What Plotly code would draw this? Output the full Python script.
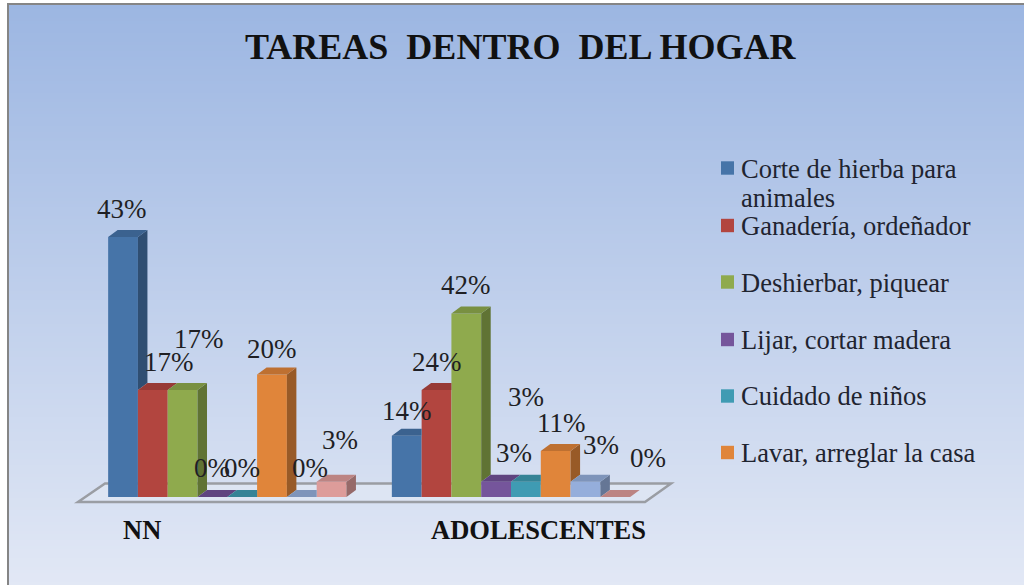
import plotly.graph_objects as go

TITLE = "TAREAS  DENTRO  DEL HOGAR"
GROUPS = ["NN", "ADOLESCENTES"]
SERIES = ["Corte de hierba para", "Ganadería, ordeñador", "Deshierbar, piquear",
          "Lijar, cortar madera", "Cuidado de niños", "Lavar, arreglar la casa", "Otros 1", "Otros 2"]
LEGEND_EXTRA_LINE = "animales"
# bar heights (counts behind the percentages), per series: [NN, ADOLESCENTES]
corte = [17, 4]
ganaderia = [7, 7]
deshierbar = [7, 12]
lijar = [0, 1]
cuidado = [0, 1]
lavar = [8, 3]
otros1 = [0, 1]
otros2 = [1, 0]
VALUES = [corte, ganaderia, deshierbar, lijar, cuidado, lavar, otros1, otros2]
# printed labels, per series
LABELS = [["43%", "14%"], ["17%", "24%"], ["17%", "42%"], ["0%", "3%"],
          ["0%", "3%"], ["20%", "11%"], ["0%", "3%"], ["3%", "0%"]]

FRONT = ["#4674A8", "#B2453F", "#8FAA4D", "#75559B", "#3F9BB3", "#E0853A", "#95AEDB", "#DD9C9A"]
TOP = ["#3B628F", "#973A36", "#799041", "#5F4480", "#358396", "#BE7031", "#7E94BA", "#BC8483"]
SIDE = ["#2F4E72", "#78302B", "#607334", "#4C3666", "#2A6978", "#985A27", "#657695", "#966A69"]

# label offset from the bar's top centre, in px (right, up)
LABEL_DX = [[-1, 0], [16, 0], [16, 0], [0, 18], [0, 0], [0, 6], [8, 16], [8, 33]]
LABEL_DY = [[28, 25], [28, 28], [51, 28], [29, 29], [29, 85], [26, 28], [29, 37], [42, 39]]

W, H = 1024, 585
PX_X = 283.7      # px per group
PX_Y = 15.3       # px per count
X0_PX = 227.3     # px of group 0
Y0_PX = 497.0     # px of baseline
L_PX, R_PX, T_PX, B_PX = 60, 690, 180, 515
GROUP_W = 0.84
BW = GROUP_W / len(VALUES)
DX = 9.5 / PX_X
DY = 7.0 / PX_Y

fig = go.Figure()

# gradient background
shapes = []
c0 = (156, 182, 226)
c1 = (226, 232, 245)
ROW = 3
for py in range(3, H, ROW):
    t = (py - 3) / (H - 3)
    col = tuple(round(a + (b - a) * t) for a, b in zip(c0, c1))
    shapes.append(dict(type="rect", xref="paper", yref="paper", layer="below",
                       x0=7 / W, x1=1, y0=1 - py / H, y1=max(0, 1 - (py + ROW) / H),
                       fillcolor="rgb(%d,%d,%d)" % col, line_width=0))
# frame
shapes.append(dict(type="line", xref="paper", yref="paper", layer="below",
                   x0=8 / W, x1=8 / W, y0=0, y1=1 - 3 / H, line=dict(color="#858585", width=2)))
shapes.append(dict(type="line", xref="paper", yref="paper", layer="below",
                   x0=7 / W, x1=1, y0=1 - 4 / H, y1=1 - 4 / H, line=dict(color="#858585", width=2)))
# floor
fx = lambda p: (p - X0_PX) / PX_X
fy = lambda p: (Y0_PX - p) / PX_Y
floor = [(78, 502), (105, 483.5), (671, 483.5), (645, 502)]
path = "M " + " L ".join("%.4f,%.4f" % (fx(a), fy(b)) for a, b in floor) + " Z"
shapes.append(dict(type="path", xref="x", yref="y", layer="below", path=path,
                   fillcolor="#DDE5F3", line=dict(color="#9A9DA3", width=2.5)))

# legend squares
LEG_Y = [168, 225.5, 282, 339.5, 396, 452.5]
for i, yy in enumerate(LEG_Y):
    shapes.append(dict(type="rect", xref="paper", yref="paper",
                       x0=721 / W, x1=734 / W, y0=1 - (yy - 6.7) / H, y1=1 - (yy + 6.7) / H,
                       fillcolor=FRONT[i], line_width=0))

# fronts
for s, vals in enumerate(VALUES):
    fig.add_trace(go.Bar(x=[0, 1], y=vals, name=SERIES[s],
                         marker=dict(color=FRONT[s], line_width=0), showlegend=False,
                         hoverinfo="skip"))


def poly(xs, ys, color):
    fig.add_trace(go.Scatter(x=xs + xs[:1], y=ys + ys[:1], mode="lines", fill="toself",
                             fillcolor=color, line=dict(width=0, color=color),
                             showlegend=False, hoverinfo="skip"))


annos = []
for g in range(len(GROUPS)):
    for s, vals in enumerate(VALUES):
        h = vals[g]
        nxt = VALUES[s + 1][g] if s + 1 < len(VALUES) else 0
        x0 = g - GROUP_W / 2 + s * BW
        x1 = x0 + BW
        if h > nxt:
            poly([x1, x1 + DX, x1 + DX, x1], [nxt, nxt + DY, h + DY, h], SIDE[s])
        if nxt > h:
            poly([x0, x0 + DX, x1, x1], [h, h + DY, h + DY, h], TOP[s])
        else:
            poly([x0, x0 + DX, x1 + DX, x1], [h, h + DY, h + DY, h], TOP[s])
        annos.append(dict(x=(x0 + x1) / 2, y=h, xref="x", yref="y", text=LABELS[s][g],
                          showarrow=False, xanchor="center", yanchor="middle",
                          xshift=LABEL_DX[s][g], yshift=LABEL_DY[s][g],
                          font=dict(family="Liberation Serif", size=27, color="#1F1F24")))

# legend text
LEG_TXT_Y = [169, 226, 283, 340, 396, 453]
LEG_FONT = dict(family="Liberation Serif", size=26.5, color="#1F2430")
for i in range(6):
    annos.append(dict(x=739 / W, y=1 - LEG_TXT_Y[i] / H, xref="paper", yref="paper", text=SERIES[i],
                      showarrow=False, xanchor="left", yanchor="middle", align="left", font=LEG_FONT))
annos.append(dict(x=739 / W, y=1 - 198 / H, xref="paper", yref="paper", text=LEGEND_EXTRA_LINE,
                  showarrow=False, xanchor="left", yanchor="middle", align="left", font=LEG_FONT))
# group labels
for name, cx in zip(GROUPS, [142, 538]):
    annos.append(dict(x=cx / W, y=1 - 530 / H, xref="paper", yref="paper", text="<b>%s</b>" % name,
                      showarrow=False, xanchor="center", yanchor="middle",
                      font=dict(family="Liberation Serif", size=26.5, color="#111111")))
# title
annos.append(dict(x=520 / W, y=1 - 47 / H, xref="paper", yref="paper", text="<b>%s</b>" % TITLE,
                  showarrow=False, xanchor="center", yanchor="middle",
                  font=dict(family="Liberation Serif", size=36, color="#111111")))

fig.update_layout(
    width=W, height=H, margin=dict(l=0, r=0, t=0, b=0),
    paper_bgcolor="white", plot_bgcolor="rgba(0,0,0,0)",
    barmode="group", bargap=1 - GROUP_W, bargroupgap=0,
    shapes=shapes, annotations=annos, showlegend=False,
    xaxis=dict(domain=[L_PX / W, R_PX / W], range=[fx(L_PX), fx(R_PX)], visible=False),
    yaxis=dict(domain=[1 - B_PX / H, 1 - T_PX / H], range=[fy(B_PX), fy(T_PX)], visible=False),
)
fig.write_html("out.html", config=dict(displayModeBar=False),
               post_script="document.body.style.margin='0';document.body.style.overflow='hidden';")
